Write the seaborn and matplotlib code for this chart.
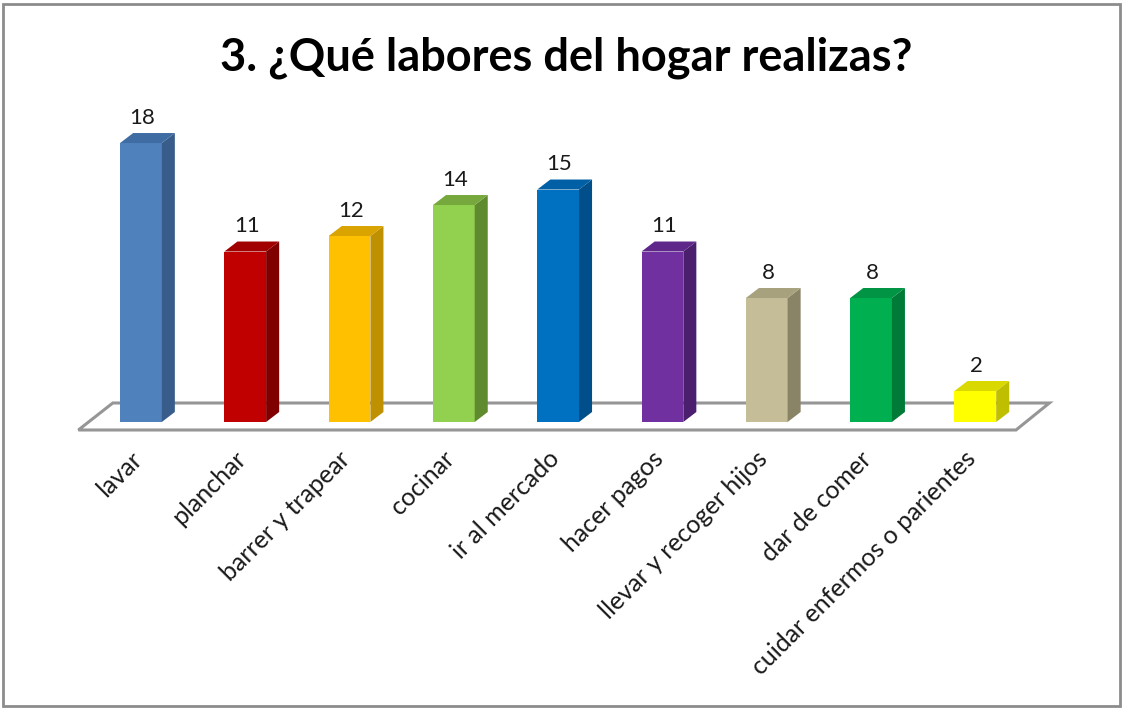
import matplotlib
matplotlib.use('Agg')
import matplotlib.pyplot as plt
from matplotlib.patches import Polygon, Rectangle
import seaborn as sns

# data
categories = ['lavar', 'planchar', 'barrer y trapear', 'cocinar', 'ir al mercado',
              'hacer pagos', 'llevar y recoger hijos', 'dar de comer',
              'cuidar enfermos o parientes']
values = [18, 11, 12, 14, 15, 11, 8, 8, 2]
title = '3. ¿Qué labores del hogar realizas?'

# colours: front face, side face, top face
front_colors = ['#4F81BD', '#C00000', '#FFC000', '#92D050', '#0070C0',
                '#7030A0', '#C4BD97', '#00B050', '#FFFF00']
side_colors = ['#385D8A', '#800000', '#BF9000', '#5F8B2E', '#004F8A',
               '#4B1F6E', '#8A8466', '#007A37', '#BFBF00']
top_colors = ['#3F6CA2', '#A00000', '#D9A300', '#77A83E', '#005FA5',
              '#5E2789', '#A8A17E', '#009444', '#D9D900']

sns.set_theme(style='white')
plt.rcParams['font.family'] = ['Lato', 'DejaVu Sans']

fig = plt.figure(figsize=(11.27, 7.09), dpi=100)
ax = fig.add_axes([0.0788, 0.4048, 0.8329, 0.4372])

sns.barplot(x=categories, y=values, hue=categories, palette=front_colors,
            saturation=1, width=0.40, legend=False, ax=ax, zorder=2,
            edgecolor='none', linewidth=0)
bars = sorted(ax.patches, key=lambda p: p.get_x())

n = len(categories)
ax.set_xlim(-0.5, n - 0.5)
ax.set_ylim(0, 20)
ax.axis('off')

# depth of the fake 3D effect (data units)
dx, dy = 0.125, 0.645

# floor
floor = Polygon([(-0.6, -0.516), (n - 0.61, -0.516), (n - 0.29, 1.226), (-0.27, 1.226)],
                closed=True, facecolor='white', edgecolor='#969696', lw=2.2,
                zorder=0, clip_on=False)
ax.add_patch(floor)

for i, bar in enumerate(bars):
    x0 = bar.get_x()
    x1 = x0 + bar.get_width()
    h = bar.get_height()
    side = Polygon([(x1, 0), (x1, h), (x1 + dx, h + dy), (x1 + dx, dy)],
                   closed=True, facecolor=side_colors[i], edgecolor='none',
                   zorder=2, clip_on=False)
    top = Polygon([(x0, h), (x1, h), (x1 + dx, h + dy), (x0 + dx, h + dy)],
                  closed=True, facecolor=top_colors[i], edgecolor='none',
                  zorder=2, clip_on=False)
    ax.add_patch(side)
    ax.add_patch(top)
    ax.annotate(str(values[i]), xy=(i, h), xytext=(1, 14), textcoords='offset points',
                ha='center', va='baseline', fontsize=16, color='#1a1a1a',
                annotation_clip=False)

# rotated category labels
for i, cat in enumerate(categories):
    ax.annotate(cat, xy=(i, 0), xytext=(-8, -18), textcoords='offset points',
                ha='right', va='top', rotation=45, rotation_mode='anchor',
                fontsize=18, color='#1a1a1a', annotation_clip=False)

fig.text(0.502, 0.918, title, ha='center', va='center', fontsize=32.5,
         fontweight='bold', color='black')

# chart area border
fig.patches.append(Rectangle((0.003, 0.004), 0.991, 0.99, transform=fig.transFigure,
                             fill=False, edgecolor='#8c8c8c', lw=2))

fig.savefig('out.png', dpi=100)
